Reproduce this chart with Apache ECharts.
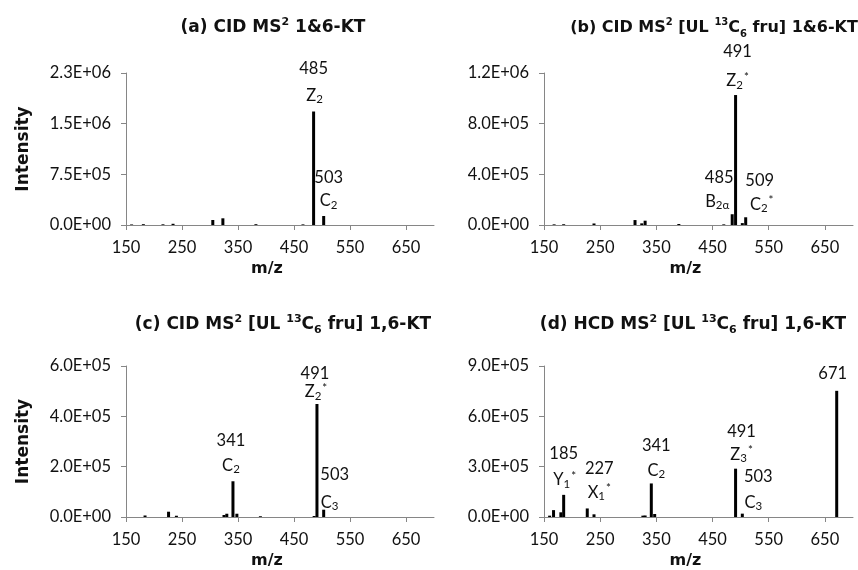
<!doctype html>
<html>
<head>
<meta charset="utf-8">
<title>MS2 spectra</title>
<style>
html, body { margin: 0; padding: 0; background: #fff; }
#main { width: 858px; height: 570px; }
</style>
</head>
<body>
<div id="main"></div>
<script src="https://cdn.jsdelivr.net/npm/echarts@6/dist/echarts.min.js"></script>
<script>
// peaks: [m/z, intensity]
var peaksA = [[160, 8000], [181, 12000], [216, 10000], [234, 18000], [305, 74000], [323, 99000],
    [382, 12000], [466, 9000], [485, 1680000], [503, 133000]];
var peaksB = [[168, 5000], [185, 6000], [239, 12000], [312, 39000], [324, 13000], [330, 34000],
    [390, 8000], [470, 5000], [485, 85000], [491, 1026000], [503, 15000], [509, 61000]];
var peaksC = [[184, 6000], [226, 21000], [240, 5000], [325, 8000], [330, 13000], [341, 142000],
    [348, 13000], [390, 3000], [486, 4000], [491, 449000], [503, 29000]];
var peaksD = [[160, 8000], [167, 41000], [180, 28000], [185, 132000], [227, 51000], [239, 16000],
    [326, 8000], [330, 9000], [341, 200000], [347, 18000], [491, 288000], [503, 20000], [671, 752000]];

// annotated peaks: [m/z, mass text, ion letter, subscript, superscript]
var notesA = [[485, '485', 'Z', '2', ''], [503, '503', 'C', '2', '']];
var notesB = [[491, '491', 'Z', '2', '*'], [485, '485', 'B', '2α', ''], [509, '509', 'C', '2', '*']];
var notesC = [[491, '491', 'Z', '2', '*'], [341, '341', 'C', '2', ''], [503, '503', 'C', '3', '']];
var notesD = [[671, '671', '', '', ''], [491, '491', 'Z', '3', '*'], [503, '503', 'C', '3', ''],
    [341, '341', 'C', '2', ''], [185, '185', 'Y', '1', '*'], [227, '227', 'X', '1', '*']];

var yMax = [2250000, 1200000, 600000, 900000];
var yStep = [750000, 400000, 200000, 300000];

var titles = [
    '{b|(a) CID MS}{sup|2}{b| 1&6-KT}',
    '{b|(b) CID MS}{sup|2}{b| [UL }{sup|13}{b|C}{sub|6}{b| fru] 1&6-KT}',
    '{b|(c) CID MS}{sup|2}{b| [UL }{sup|13}{b|C}{sub|6}{b| fru] 1,6-KT}',
    '{b|(d) HCD MS}{sup|2}{b| [UL }{sup|13}{b|C}{sub|6}{b| fru] 1,6-KT}'
];

// label placement (px offsets from peak top): [dx mass, dy mass, dx ion, dy ion]
var labelShift = [
    [[0, -43, 1, -16], [5, -38, 5, -15]],
    [[2, -43, 2, -14], [-13, -37, -15, -13], [14, -37, 16, -13]],
    [[-2, -30, -1, -12], [-2, -41, -2, -16], [11, -35, 6, -7]],
    [[-4, -17, 0, 0], [6, -37, 6, -14], [16, -37, 11, -11], [5, -38, 5, -13], [0, -41, 1, -15], [12, -40, 12, -16]]
];

var FONT = 'Lato, "Open Sans", sans-serif';
var BOLD = '"DejaVu Sans", sans-serif';
var INK = '#111';
var GRID = [
    {left: 126, top: 73, width: 308, height: 152},
    {left: 544, top: 73, width: 309, height: 152},
    {left: 126, top: 366, width: 308, height: 152},
    {left: 544, top: 366, width: 309, height: 152}
];
var titlePos = [[273, 17], [714, 17], [283, 314], [693, 314]];
var titleSize = [17, 16, 17, 17];

function sci(v) {
    if (v === 0) return '0.0E+00';
    var e = Math.floor(Math.log10(v));
    var s = (v / Math.pow(10, e)).toFixed(1);
    if (s === '10.0') { s = '1.0'; e++; }
    return s + 'E+' + (e < 10 ? '0' : '') + e;
}

var ionRich = {
    m: {fontFamily: FONT, fontSize: 16.5, color: INK, lineHeight: 20},
    sub: {fontFamily: FONT, fontSize: 11.5, color: INK, lineHeight: 11, verticalAlign: 'bottom'},
    sup: {fontFamily: FONT, fontSize: 11.5, color: INK, lineHeight: 11, verticalAlign: 'top', padding: [0, 0, 0, 1]}
};

function markPoints(peaks, notes, shifts) {
    var out = [];
    notes.forEach(function (n, i) {
        var y = 0;
        peaks.forEach(function (p) { if (p[0] === n[0]) y = p[1]; });
        var s = shifts[i];
        out.push({
            coord: [n[0], y],
            label: {offset: [s[0], s[1]], formatter: '{m|' + n[1] + '}'}
        });
        if (n[2]) {
            var f = '{m|' + n[2] + '}{sub|' + n[3] + '}' + (n[4] ? '{sup|' + n[4] + '}' : '');
            out.push({coord: [n[0], y], label: {offset: [s[2], s[3]], formatter: f}});
        }
    });
    return out;
}

var allPeaks = [peaksA, peaksB, peaksC, peaksD];
var allNotes = [notesA, notesB, notesC, notesD];

var chart = echarts.init(document.getElementById('main'));

chart.setOption({
    backgroundColor: '#fff',
    animation: false,
    title: titles.map(function (t, i) {
        var fs = titleSize[i];
        return {
            text: t,
            left: titlePos[i][0],
            top: titlePos[i][1],
            textAlign: 'center',
            padding: 0,
            textStyle: {
                rich: {
                    b: {fontFamily: BOLD, fontWeight: 'bold', fontSize: fs, color: INK, lineHeight: 22},
                    sup: {fontFamily: BOLD, fontWeight: 'bold', fontSize: fs - 6, color: INK, lineHeight: 12, verticalAlign: 'top'},
                    sub: {fontFamily: BOLD, fontWeight: 'bold', fontSize: fs - 6, color: INK, lineHeight: 12, verticalAlign: 'bottom'}
                }
            }
        };
    }),
    grid: GRID,
    xAxis: GRID.map(function (g, i) {
        return {
            type: 'value',
            gridIndex: i,
            min: 150,
            max: 700,
            interval: 100,
            name: 'm/z',
            nameLocation: 'middle',
            nameGap: 36,
            nameTextStyle: {fontFamily: BOLD, fontWeight: 'bold', fontSize: 16, color: INK, padding: [0, 26, 0, 0]},
            axisLine: {lineStyle: {color: '#868686', width: 1}},
            axisTick: {length: 5, lineStyle: {color: '#868686'}},
            axisLabel: {fontFamily: FONT, fontSize: 16.5, color: INK, margin: 14, showMaxLabel: false},
            splitLine: {show: false}
        };
    }),
    yAxis: GRID.map(function (g, i) {
        return {
            type: 'value',
            gridIndex: i,
            min: 0,
            max: yMax[i],
            interval: yStep[i],
            name: i % 2 === 0 ? 'Intensity' : '',
            nameLocation: 'middle',
            nameGap: 94,
            nameTextStyle: {fontFamily: BOLD, fontWeight: 'bold', fontSize: 17, color: INK},
            axisLine: {show: true, lineStyle: {color: '#868686', width: 1}},
            axisTick: {show: true, length: 5, lineStyle: {color: '#868686'}},
            axisLabel: {fontFamily: FONT, fontSize: 16.5, color: INK, margin: 15, formatter: sci},
            splitLine: {show: false}
        };
    }),
    series: allPeaks.map(function (peaks, i) {
        return {
            type: 'bar',
            xAxisIndex: i,
            yAxisIndex: i,
            data: peaks,
            barWidth: 3,
            itemStyle: {color: '#000'},
            markPoint: {
                symbol: 'circle',
                symbolSize: 1,
                itemStyle: {color: 'rgba(0,0,0,0)'},
                label: {show: true, position: 'inside', color: INK, rich: ionRich},
                data: markPoints(peaks, allNotes[i], labelShift[i])
            }
        };
    })
});

window.onresize = chart.resize;
</script>
</body>
</html>
